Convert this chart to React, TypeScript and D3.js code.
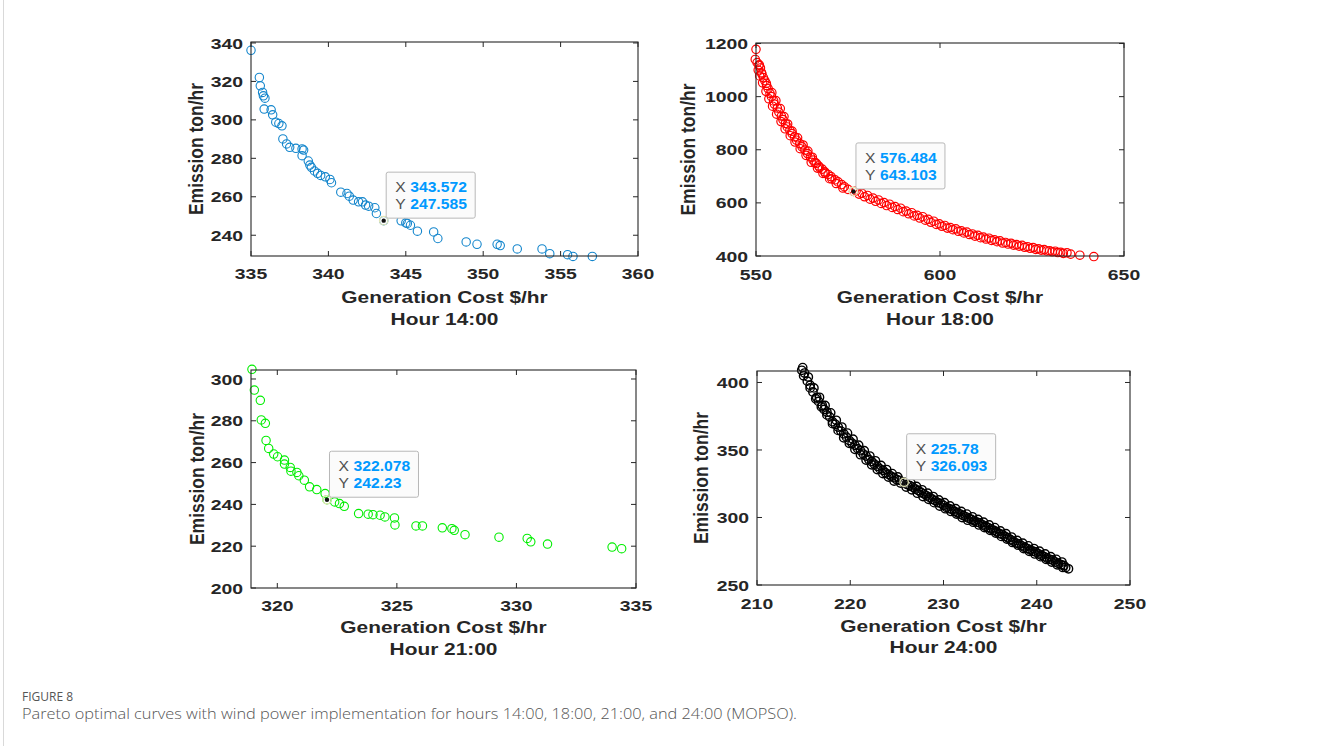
import React from "react";
import * as d3 from "d3";

// Pareto fronts: [generation cost $/hr, emission ton/hr]
const hour14 = [
  [335.0, 336.2], [335.54, 322.1], [335.6, 317.7], [335.75, 314.3], [335.8, 312.5], [335.9, 311.3],
  [335.85, 305.6], [336.3, 305.2], [336.4, 302.6], [336.6, 298.8], [336.8, 298.1], [337.0, 296.9],
  [337.06, 290.1], [337.3, 287.5], [337.5, 285.7], [337.9, 285.2], [338.3, 284.9], [338.4, 284.3],
  [338.3, 281.4], [338.7, 278.6], [338.8, 276.5], [338.9, 275.3], [339.1, 273.4], [339.3, 272.2],
  [339.5, 271.1], [339.8, 270.4], [340.1, 269.0], [340.2, 267.3], [340.8, 262.4], [341.2, 261.7],
  [341.35, 260.3], [341.6, 258.3], [341.95, 257.4], [342.2, 257.4], [342.4, 255.7], [342.6, 255.1],
  [343.0, 254.3], [343.1, 251.3], [343.572, 247.585], [344.7, 247.5], [345.0, 246.4], [345.1, 246.1],
  [345.3, 245.2], [345.75, 242.1], [346.8, 241.7], [347.07, 238.3], [348.9, 236.5], [349.6, 235.3],
  [350.9, 235.3], [351.1, 234.6], [352.2, 232.9], [353.8, 232.9], [354.3, 230.4], [355.45, 229.9],
  [355.8, 229.0], [357.05, 229.0],
];

const hour18 = [
  [550.0, 1178], [549.8, 1140], [550.3, 1128], [550.9, 1120], [551.2, 1108], [550.6, 1100], [551.5, 1090],
  [551.0, 1078], [552.0, 1072], [552.4, 1060], [551.8, 1052], [552.9, 1042], [553.3, 1030], [552.7, 1020],
  [553.8, 1012], [554.2, 1000], [553.5, 992], [554.8, 984], [555.0, 972], [554.5, 964], [555.8, 957],
  [556.2, 942], [555.6, 934], [556.9, 927], [557.3, 914], [556.8, 906], [558.0, 899], [558.5, 886],
  [557.9, 879], [559.2, 873], [559.8, 861], [559.3, 853], [560.5, 849], [561.0, 836], [560.6, 829],
  [561.9, 823], [562.5, 811], [562.0, 804], [563.3, 799], [564.0, 786], [563.6, 779], [564.8, 773],
  [565.5, 761], [565.0, 753], [566.4, 749], [567.0, 739], [566.7, 731], [568.0, 727], [568.7, 717],
  [568.2, 711], [569.6, 707], [570.4, 699], [570.0, 691], [571.5, 687], [572.3, 679], [571.8, 673],
  [573.3, 669], [574.0, 661], [573.6, 656], [575.0, 651],
  [550.8, 1118], [551.6, 1085], [552.8, 1050], [554.3, 1015], [555.4, 985], [556.6, 955], [557.6, 925],
  [558.6, 897], [559.8, 870], [561.3, 845], [562.8, 818], [564.1, 795], [565.3, 772], [566.0, 752],
  [567.3, 733], [568.8, 712], [570.6, 690],
  [576.5, 643], [578.0, 633], [579.5, 623], [581.0, 614], [582.5, 606], [584.0, 598], [585.5, 590],
  [587.0, 583], [588.5, 575], [590.0, 567], [591.5, 559], [593.0, 551], [594.5, 543], [596.0, 535],
  [597.5, 527], [599.0, 519], [600.5, 512], [602.0, 505], [603.5, 499], [605.0, 493], [606.5, 487],
  [608.0, 481], [609.5, 475], [611.0, 469], [612.5, 464], [614.0, 459], [615.5, 454], [617.0, 449],
  [618.5, 445], [620.0, 441], [621.5, 437], [623.0, 433], [624.5, 429], [626.0, 425], [627.5, 422],
  [629.0, 419], [630.5, 416], [632.0, 413], [633.5, 410], [635.5, 407], [638.0, 403], [641.8, 398],
  [577.2, 645], [578.8, 636], [580.3, 628], [581.8, 618], [583.3, 611], [584.8, 601], [586.3, 595],
  [587.8, 586], [589.3, 580], [590.8, 569], [592.3, 563], [593.8, 553], [595.3, 548], [596.8, 538],
  [598.3, 531], [599.8, 521], [601.3, 515], [602.8, 507], [604.3, 502], [605.8, 495], [607.3, 490],
  [608.8, 483], [610.3, 478], [611.8, 471], [613.3, 467], [614.8, 461], [616.3, 457], [617.8, 451],
  [619.3, 448], [620.8, 443], [622.3, 440], [623.8, 435], [625.3, 432], [626.8, 427], [628.3, 424],
  [629.8, 420], [631.3, 418], [632.8, 414], [634.5, 412],
];

const hour21 = [
  [318.94, 304.6], [319.04, 294.7], [319.29, 289.8], [319.33, 280.4], [319.5, 278.8], [319.53, 270.6],
  [319.64, 266.8], [319.85, 264.1], [320.01, 262.8], [320.3, 261.2], [320.3, 259.3], [320.54, 257.7],
  [320.57, 255.9], [320.82, 255.3], [320.9, 253.7], [321.13, 251.6], [321.35, 248.4], [321.65, 247.1],
  [322.0, 245.2], [322.078, 242.23], [322.4, 241.2], [322.6, 240.4], [322.8, 239.1], [323.4, 235.6],
  [323.8, 235.3], [324.0, 235.1], [324.3, 234.8], [324.5, 234.0], [324.9, 233.5], [324.92, 230.2],
  [325.8, 229.7], [326.07, 229.7], [326.9, 228.8], [327.3, 228.4], [327.4, 227.6], [327.85, 225.5],
  [329.27, 224.3], [330.45, 223.7], [330.6, 222.1], [331.3, 221.0], [334.0, 219.6], [334.4, 218.8],
];

const hour24 = [
  [214.8, 409], [215.4, 401], [216.0, 393], [216.6, 386], [217.2, 380], [217.8, 374.5], [218.4, 369],
  [219.0, 364], [219.6, 359.5], [220.2, 355], [220.8, 351], [221.4, 347], [222.0, 343], [222.6, 339.5],
  [223.2, 336], [223.8, 333], [224.4, 330.5], [225.0, 328], [225.78, 326.1], [226.4, 323.5], [227.0, 321],
  [227.6, 318.5], [228.2, 316], [228.8, 313.5], [229.4, 311], [230.0, 309], [230.6, 306.5], [231.2, 304.5],
  [231.8, 302.5], [232.4, 300.5], [233.0, 298.5], [233.6, 296.5], [234.2, 294.5], [234.8, 292.5],
  [235.4, 290.5], [236.0, 288], [236.6, 286], [237.2, 283.5], [237.8, 281], [238.4, 279], [239.0, 277],
  [239.6, 275], [240.2, 273], [240.8, 271], [241.4, 269], [242.0, 267], [242.6, 265], [243.1, 263],
  [243.4, 262],
  [215.1, 407], [215.7, 398], [216.4, 389], [217.0, 383], [217.5, 378], [218.1, 371], [218.7, 367],
  [219.3, 362], [219.9, 357], [220.5, 353.5], [221.1, 349.5], [221.7, 345.5], [222.3, 341.5], [222.9, 338],
  [223.5, 335], [224.1, 332], [224.7, 329.5], [225.3, 327.5], [226.1, 324.5], [226.7, 322.5], [227.3, 320],
  [227.9, 317.5], [228.5, 315], [229.1, 312.5], [229.7, 310.5], [230.3, 307.5], [230.9, 306], [231.5, 303.5],
  [232.1, 301.5], [232.7, 299.5], [233.3, 297.5], [233.9, 296], [234.5, 293.5], [235.1, 291.5],
  [235.7, 289.5], [236.3, 287.5], [236.9, 285], [237.5, 282.5], [238.1, 280.5], [238.7, 278], [239.3, 276],
  [239.9, 274.5], [240.5, 272], [241.1, 270], [241.7, 268.5], [242.3, 266], [242.9, 264.5],
  [215.0, 405], [215.7, 396], [216.3, 388], [216.9, 382], [217.5, 376], [218.1, 369.5], [218.7, 364.5],
  [219.3, 359], [219.9, 355], [220.5, 350.5], [221.1, 346.5], [221.7, 342.5], [222.3, 339], [222.9, 335.5],
  [223.5, 332.5], [224.1, 330], [224.7, 327], [225.4, 325.5], [226.0, 322.5], [226.6, 320.5], [227.2, 318],
  [227.8, 315.5], [228.4, 313.5], [229.0, 311], [229.6, 308.5], [230.2, 306.5], [230.8, 304.5],
  [231.4, 302.5], [232.0, 300], [232.6, 298], [233.2, 296.5], [233.8, 294.5], [234.4, 292.5], [235.0, 290.5],
  [235.6, 288.5], [236.2, 286], [236.8, 284], [237.4, 281.5], [238.0, 279.5], [238.6, 277], [239.2, 275],
  [239.8, 273], [240.4, 271], [241.0, 269], [241.6, 267], [242.2, 265], [242.8, 263],
  [214.9, 411], [215.5, 404], [216.1, 396], [216.7, 389], [217.3, 383], [217.9, 377.5], [218.5, 372],
  [219.1, 367], [219.7, 362.5], [220.3, 358], [220.9, 353.5], [221.5, 349.5], [222.1, 345.5],
  [222.7, 342], [223.3, 338.5], [223.9, 335.5], [224.5, 332.5], [225.1, 330], [226.5, 325.5],
  [227.1, 323], [227.7, 320.5], [228.3, 318], [228.9, 315.5], [229.5, 313], [230.1, 311], [230.7, 308.5],
  [231.3, 306.5], [231.9, 304.5], [232.5, 302.5], [233.1, 300.5], [233.7, 298.5], [234.3, 296.5],
  [234.9, 294.5], [235.5, 292.5], [236.1, 290], [236.7, 288], [237.3, 285.5], [237.9, 283], [238.5, 281],
  [239.1, 279], [239.7, 277], [240.3, 275], [240.9, 273], [241.5, 271], [242.1, 269], [242.7, 267],
];

const tip14 = [343.572, 247.585];
const tip18 = [576.484, 643.103];
const tip21 = [322.078, 242.23];
const tip24 = [225.78, 326.093];

const tipLabels14 = ["343.572", "247.585"];
const tipLabels18 = ["576.484", "643.103"];
const tipLabels21 = ["322.078", "242.23"];
const tipLabels24 = ["225.78", "326.093"];

const xTicks14 = [335, 340, 345, 350, 355, 360];
const yTicks14 = [240, 260, 280, 300, 320, 340];
const xTicks18 = [550, 600, 650];
const yTicks18 = [400, 600, 800, 1000, 1200];
const xTicks21 = [320, 325, 330, 335];
const yTicks21 = [200, 220, 240, 260, 280, 300];
const xTicks24 = [210, 220, 230, 240, 250];
const yTicks24 = [250, 300, 350, 400];

const hours = ["Hour 14:00", "Hour 18:00", "Hour 21:00", "Hour 24:00"];

const FONT = "'Liberation Sans', Arial, Helvetica, sans-serif";

const panels = [
  {
    data: hour14, tip: tip14, tipText: tipLabels14, color: "#1285cc", sw: 1.1, hour: hours[0],
    xDomain: [335, 360], yDomain: [229.2, 340.5], xTicks: xTicks14, yTicks: yTicks14,
    box: { x0: 251, x1: 638, y0: 42, y1: 256 }, tickY: 279, t1: 303, t2: 325, labelX: 195,
  },
  {
    data: hour18, tip: tip18, tipText: tipLabels18, color: "#ff0000", sw: 1.2, hour: hours[1],
    xDomain: [550, 650], yDomain: [400, 1202], xTicks: xTicks18, yTicks: yTicks18,
    box: { x0: 756, x1: 1124, y0: 43, y1: 256 }, tickY: 280, t1: 303, t2: 325, labelX: 687,
  },
  {
    data: hour21, tip: tip21, tipText: tipLabels21, color: "#00ee00", sw: 1.1, hour: hours[2],
    xDomain: [318.9, 335], yDomain: [200, 304.3], xTicks: xTicks21, yTicks: yTicks21,
    box: { x0: 251, x1: 636, y0: 370, y1: 588 }, tickY: 611, t1: 633, t2: 655, labelX: 196,
  },
  {
    data: hour24, tip: tip24, tipText: tipLabels24, color: "#000000", sw: 1.4, hour: hours[3],
    xDomain: [210, 250], yDomain: [250, 408.5], xTicks: xTicks24, yTicks: yTicks24,
    box: { x0: 757, x1: 1130, y0: 371, y1: 585 }, tickY: 609, t1: 632, t2: 653, labelX: 700,
  },
];

function Stretch({ x, y, sx, children }: any) {
  return <g transform={`translate(${x},${y}) scale(${sx},1)`}>{children}</g>;
}

function Panel({ p }: any) {
  const { box } = p;
  const x = d3.scaleLinear().domain(p.xDomain).range([box.x0, box.x1]);
  const y = d3.scaleLinear().domain(p.yDomain).range([box.y1, box.y0]);
  const axisColor = "#262626";
  const tl = 5;
  const tx = x(p.tip[0]);
  const ty = y(p.tip[1]);
  const bw = 89, bh = 46;
  const bx = tx + 2.5, by = ty - 2.5 - bh;
  return (
    <g>
      <rect x={box.x0} y={box.y0} width={box.x1 - box.x0} height={box.y1 - box.y0} fill="#fff" />
      {p.data.map((d: number[], i: number) => (
        <circle key={i} cx={x(d[0])} cy={y(d[1])} r={4.2} fill="none" stroke={p.color} strokeWidth={p.sw} />
      ))}
      <rect x={box.x0} y={box.y0} width={box.x1 - box.x0} height={box.y1 - box.y0} fill="none" stroke={axisColor} strokeWidth={1.1} />
      {p.xTicks.map((t: number) => (
        <g key={"x" + t}>
          <line x1={x(t)} x2={x(t)} y1={box.y1} y2={box.y1 - tl} stroke={axisColor} />
          <line x1={x(t)} x2={x(t)} y1={box.y0} y2={box.y0 + tl} stroke={axisColor} />
          <Stretch x={x(t)} y={p.tickY} sx={1.25}>
            <text textAnchor="middle" fontFamily={FONT} fontWeight="bold" fontSize={15.5} fill="#262626">{t}</text>
          </Stretch>
        </g>
      ))}
      {p.yTicks.map((t: number) => (
        <g key={"y" + t}>
          <line x1={box.x0} x2={box.x0 + tl} y1={y(t)} y2={y(t)} stroke={axisColor} />
          <line x1={box.x1} x2={box.x1 - tl} y1={y(t)} y2={y(t)} stroke={axisColor} />
          <Stretch x={box.x0 - 8} y={y(t) + 5.6} sx={1.25}>
            <text textAnchor="end" fontFamily={FONT} fontWeight="bold" fontSize={15.5} fill="#262626">{t}</text>
          </Stretch>
        </g>
      ))}
      <g transform={`translate(${p.labelX},${(box.y0 + box.y1) / 2}) scale(1.2,1) rotate(-90)`}>
        <text y={6.3} textAnchor="middle" fontFamily={FONT} fontWeight="bold" fontSize={17.5} fill="#262626">Emission ton/hr</text>
      </g>
      <Stretch x={(box.x0 + box.x1) / 2} y={p.t1} sx={1.2}>
        <text textAnchor="middle" fontFamily={FONT} fontWeight="bold" fontSize={17.4} fill="#262626">Generation Cost $/hr</text>
      </Stretch>
      <Stretch x={(box.x0 + box.x1) / 2} y={p.t2} sx={1.2}>
        <text textAnchor="middle" fontFamily={FONT} fontWeight="bold" fontSize={17.4} fill="#262626">{p.hour}</text>
      </Stretch>
      <circle cx={tx} cy={ty} r={4.2} fill="none" stroke="#e4e6b8" strokeWidth={1.3} />
      <circle cx={tx} cy={ty} r={2.2} fill="#111" />
      <rect x={bx} y={by} width={bw} height={bh} rx={2} fill="#fbfbfb" stroke="#b8b8b8" strokeWidth={1} />
      <Stretch x={bx + 9} y={by + 20} sx={1.12}>
        <text fontFamily={FONT} fontSize={14} fill="#505050">X</text>
      </Stretch>
      <Stretch x={bx + 24} y={by + 20} sx={1.12}>
        <text fontFamily={FONT} fontWeight="bold" fontSize={14} fill="#0099ff">{p.tipText[0]}</text>
      </Stretch>
      <Stretch x={bx + 9} y={by + 37} sx={1.12}>
        <text fontFamily={FONT} fontSize={14} fill="#505050">Y</text>
      </Stretch>
      <Stretch x={bx + 24} y={by + 37} sx={1.12}>
        <text fontFamily={FONT} fontWeight="bold" fontSize={14} fill="#0099ff">{p.tipText[1]}</text>
      </Stretch>
    </g>
  );
}

export default function App() {
  return (
    <div style={{ position: "fixed", left: 0, top: 0 }}>
      <svg width={1328} height={746} style={{ display: "block", background: "#fff" }}>
        <line x1={3.5} x2={3.5} y1={0} y2={746} stroke="#d9d9d9" />
        {panels.map((p, i) => (
          <Panel key={i} p={p} />
        ))}
        <text x={22} y={701} fontFamily="'Open Sans', sans-serif" fontSize={12} fontWeight={500} fill="#555">FIGURE 8</text>
        <text x={22} y={719} fontFamily="'Open Sans', sans-serif" fontSize={14.5} fontWeight={300} fill="#555" textLength={775} lengthAdjust="spacingAndGlyphs">
          Pareto optimal curves with wind power implementation for hours 14:00, 18:00, 21:00, and 24:00 (MOPSO).
        </text>
      </svg>
    </div>
  );
}
